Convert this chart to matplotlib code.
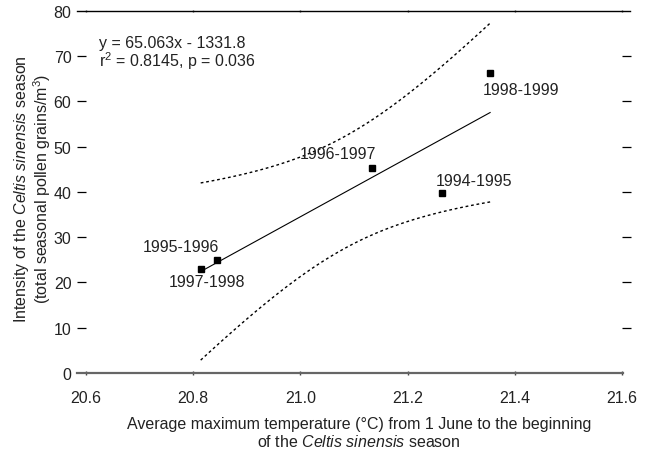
import numpy as np
import matplotlib
matplotlib.use("Agg")
import matplotlib.pyplot as plt

plt.rcParams['font.family'] = ['Liberation Sans', 'DejaVu Sans']
plt.rcParams['mathtext.fontset'] = 'custom'
plt.rcParams['mathtext.rm'] = 'Liberation Sans'
plt.rcParams['mathtext.it'] = 'Liberation Sans:italic'

# data
seasons = ['1997-1998', '1995-1996', '1996-1997', '1994-1995', '1998-1999']
temp = [20.814, 20.844, 21.133, 21.265, 21.354]
intensity = [23.0, 25.0, 45.3, 39.8, 66.4]
label_offsets = [(6, -13), (-36, 13), (-34, 14), (32, 12), (31, -17)]

slope, intercept = 65.063, -1331.8
t_crit = 3.182  # t(0.975, df=3)

x = np.array(temp)
y = np.array(intensity)
n = len(x)
resid = y - (slope * x + intercept)
s = np.sqrt(np.sum(resid ** 2) / (n - 2))
sxx = np.sum((x - x.mean()) ** 2)
xs = np.linspace(x.min(), x.max(), 100)
fit = slope * xs + intercept
half = t_crit * s * np.sqrt(1 / n + (xs - x.mean()) ** 2 / sxx)

fig = plt.figure(figsize=(6.46, 4.52), dpi=100)
ax = fig.add_axes([0.1331, 0.1726, 0.8297, 0.8009])

ax.plot(xs, fit, color='black', lw=0.8)
ax.plot(xs, fit + half, color='black', lw=1.0, ls=(0, (2, 2)))
ax.plot(xs, fit - half, color='black', lw=1.0, ls=(0, (2, 2)))
ax.plot(x, y, 's', color='black', ms=5)

for xi, yi, lab, off in zip(temp, intensity, seasons, label_offsets):
    ax.annotate(lab, (xi, yi), xytext=off, textcoords='offset pixels',
                ha='center', va='center', fontsize=11.5, color='#222222')

ax.text(0.024, 0.884, 'y = 65.063x - 1331.8\nr$^2$ = 0.8145, p = 0.036',
        transform=ax.transAxes, fontsize=11.5, color='#222222',
        va='center', ha='left', linespacing=1.0)

ax.set_xlim(20.6, 21.6)
ax.set_ylim(0, 80)
ax.set_xticks([20.6, 20.8, 21.0, 21.2, 21.4, 21.6])
ax.set_xticklabels(['20.6', '20.8', '21.0', '21.2', '21.4', '21.6'])
ax.set_yticks(range(0, 90, 10))

for side in ['left', 'right']:
    ax.spines[side].set_visible(False)
ax.spines['top'].set_linewidth(1.0)
ax.spines['top'].set_bounds(20.583, 21.615)
ax.spines['bottom'].set_linewidth(1.6)
ax.spines['bottom'].set_color('#666666')
ax.spines['bottom'].set_bounds(20.583, 21.601)

ax.tick_params(axis='y', left=True, right=True, direction='out', length=6.5,
               width=0.9, labelsize=11.5, pad=4, labelcolor='#222222')
ax.tick_params(axis='x', bottom=True, top=True, direction='inout', length=3,
               width=1, color='#444444', labelsize=11.5, pad=10.5,
               labelcolor='#222222')
# faint ticks on the top line
for t in ax.xaxis.get_major_ticks():
    t.tick2line.set_color('#b0b0b0')
    t.tick2line.set_markersize(2)
# no tick marks at 0 and 80 (the spines take their place)
for t in (ax.yaxis.get_major_ticks()[0], ax.yaxis.get_major_ticks()[-1]):
    t.tick1line.set_visible(False)
    t.tick2line.set_visible(False)

ax.set_xlabel('Average maximum temperature (°C) from 1 June to the beginning\n'
              'of the $\\mathit{Celtis}$ $\\mathit{sinensis}$ season',
              fontsize=11.5, color='#222222', linespacing=1.15)
ax.xaxis.set_label_coords(0.509, -0.118)
ax.set_ylabel('Intensity of the $\\mathit{Celtis}$ $\\mathit{sinensis}$ season\n'
              '(total seasonal pollen grains/m$^3$)',
              fontsize=11.5, color='#222222', linespacing=1.0)
ax.yaxis.set_label_coords(-0.1, 0.51)
ax.yaxis.label.set_va('center')

fig.savefig('out.png', dpi=100)
